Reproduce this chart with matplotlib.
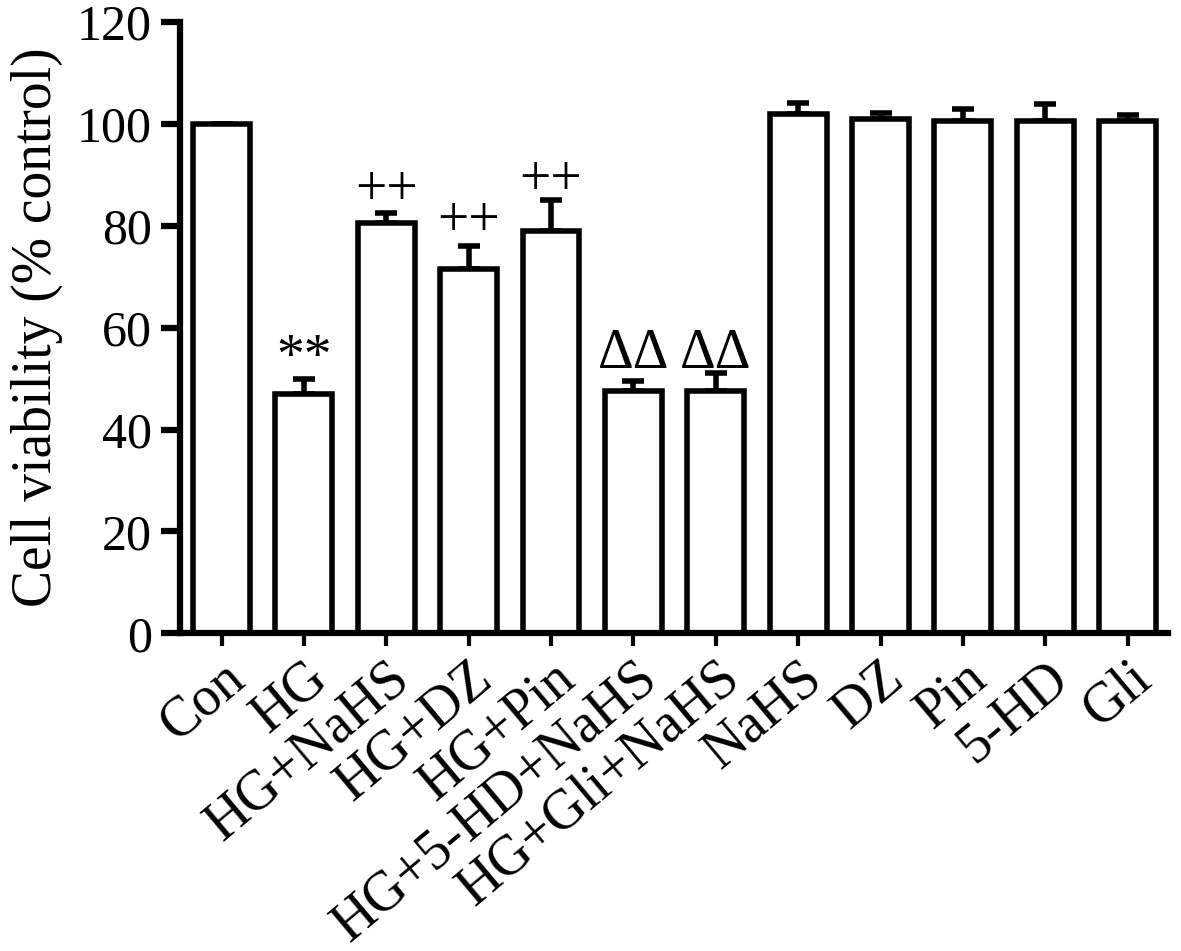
import numpy as np
import matplotlib
matplotlib.use("Agg")
import matplotlib.pyplot as plt
import matplotlib.transforms as mtransforms

plt.rcParams['font.family'] = ['Liberation Serif', 'DejaVu Serif']

groups = ["Con", "HG", "HG+NaHS", "HG+DZ", "HG+Pin", "HG+5-HD+NaHS", "HG+Gli+NaHS",
          "NaHS", "DZ", "Pin", "5-HD", "Gli"]
viability = [100, 47, 80.5, 71.5, 79, 47.5, 47.5, 102, 101, 100.5, 100.5, 100.5]
sem = [0, 3, 2, 4.5, 6, 2, 3.5, 2, 1.2, 2.5, 3.3, 1.2]
marks = ["", "**", "++", "++", "++", "ΔΔ", "ΔΔ", "", "", "", "", ""]
mark_y = [0, 51, 84, 78, 86, 52, 52, 0, 0, 0, 0, 0]

fig = plt.figure(figsize=(11.81, 9.51), dpi=100)
ax = fig.add_axes([0.152, 0.334, 0.837, 0.643])

x = np.arange(len(groups))
ax.bar(x, viability, width=0.69, color="white", edgecolor="black", linewidth=4, zorder=2)
ax.errorbar(x, viability, yerr=[np.zeros(len(sem)), sem], fmt="none", ecolor="black",
            elinewidth=4, capsize=8, capthick=4, zorder=1)

for i, m in enumerate(marks):
    if m:
        ax.text(x[i], mark_y[i], m, ha="center", va="baseline", fontsize=40)

ax.set_xlim(-0.51, 11.49)
ax.set_ylim(0, 120)
ax.set_yticks([0, 20, 40, 60, 80, 100, 120])
ax.set_xticks(x)
ax.set_xticklabels(groups, rotation=40, ha="right", rotation_mode="anchor", fontsize=40)
# nudge the slanted labels a little to the left
shift = mtransforms.ScaledTranslation(-8 / 100, 0, fig.dpi_scale_trans)
for lbl in ax.get_xticklabels():
    lbl.set_transform(lbl.get_transform() + shift)
ax.tick_params(axis="y", labelsize=36, width=4.5, length=14, direction="out", pad=6)
ax.tick_params(axis="x", width=3, length=9, direction="out", pad=4)
ax.set_ylabel("Cell viability (% control)", fontsize=40, labelpad=10)

for s in ["top", "right"]:
    ax.spines[s].set_visible(False)
ax.spines["left"].set_linewidth(4.5)
ax.spines["bottom"].set_linewidth(4.5)

fig.savefig("out.png", dpi=100)
